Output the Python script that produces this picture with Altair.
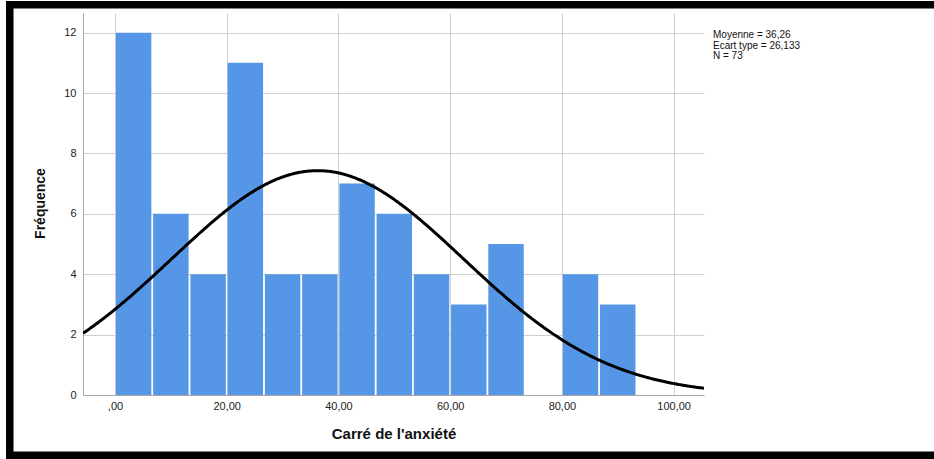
import altair as alt
import pandas as pd

# Histogram of "Carré de l'anxiété" with fitted normal curve
COUNTS = [12, 6, 4, 11, 4, 4, 7, 6, 4, 3, 5, 0, 4, 3]
BIN_WIDTH = 20 / 3
MEAN = 36.26
SD = 26.133
N = 73
X_TICKS = [0, 20, 40, 60, 80, 100]
Y_TICKS = [0, 2, 4, 6, 8, 10, 12]
X_DOMAIN = [-5.73, 105.44]
Y_DOMAIN = [0, 12.65]

W, H = 621, 382
PAD_L, PAD_T = 83, 13

BAR_COLOR = "#5597e6"
GRID_COLOR = "#cfcfcf"
AXIS_COLOR = "#a8a8a8"
FONT = "Liberation Sans"

bins = pd.DataFrame({
    "start": [i * BIN_WIDTH for i in range(len(COUNTS))],
    "end": [(i + 1) * BIN_WIDTH for i in range(len(COUNTS))],
    "count": COUNTS,
})

x_scale = alt.Scale(domain=X_DOMAIN, nice=False, zero=False)
y_scale = alt.Scale(domain=Y_DOMAIN, nice=False)

x_axis = alt.Axis(
    values=X_TICKS,
    labelExpr="datum.value == 0 ? ',00' : replace(format(datum.value, '.2f'), '.', ',')",
    title="Carré de l'anxiété",
    titleFont=FONT, titleFontSize=15, titleFontWeight="bold", titleColor="#111",
    titleX=W / 2, titleY=38, titleBaseline="middle", titleAlign="center",
    labelFont=FONT, labelFontSize=11, labelColor="#222", labelPadding=5,
    ticks=False, grid=True, gridColor=GRID_COLOR, domainColor=AXIS_COLOR,
    labelFlush=False,
)
y_axis = alt.Axis(
    values=Y_TICKS,
    title="Fréquence",
    titleFont=FONT, titleFontSize=14, titleFontWeight="bold", titleColor="#111",
    titleAngle=-90, titleX=-43, titleY=190, titleBaseline="middle", titleAlign="center",
    labelFont=FONT, labelFontSize=11, labelColor="#222", labelPadding=7,
    ticks=False, grid=True, gridColor=GRID_COLOR, domainColor=AXIS_COLOR,
)

# Bars span each bin; a thin gap separates neighbours
bars = alt.Chart(bins).mark_rect(
    color=BAR_COLOR, xOffset=0.9, x2Offset=-0.9
).encode(
    x=alt.X("start:Q", scale=x_scale, axis=x_axis),
    x2="end:Q",
    y=alt.Y("count:Q", scale=y_scale, axis=y_axis),
    y2=alt.datum(0),
)

# Normal density scaled to counts: N * bin width * pdf(x)
curve = alt.Chart(alt.sequence(X_DOMAIN[0], X_DOMAIN[1] + 0.2, 0.2, as_="x")).transform_calculate(
    y=f"{N} * {BIN_WIDTH} * densityNormal(datum.x, {MEAN}, {SD})"
).mark_line(color="black", strokeWidth=3, clip=True).encode(
    x=alt.X("x:Q", scale=x_scale),
    y=alt.Y("y:Q", scale=y_scale),
)

stats_lines = [
    f"Moyenne = {MEAN:.2f}".replace(".", ","),
    f"Ecart type = {SD:.3f}".replace(".", ","),
    f"N = {N}",
]
stats = alt.Chart(pd.DataFrame({"t": ["\n".join(stats_lines)]})).mark_text(
    align="left", baseline="alphabetic", font=FONT, fontSize=10,
    lineBreak="\n", lineHeight=10.5, color="#111",
).encode(
    x=alt.value(713 - PAD_L), y=alt.value(38 - PAD_T), text="t:N"
)

# Black frame around the figure
def band(x0, x1, y0, y1):
    return alt.Chart(pd.DataFrame({"k": [0]})).mark_rect(color="black").encode(
        x=alt.value(x0 - PAD_L), x2=alt.value(x1 - PAD_L),
        y=alt.value(y0 - PAD_T), y2=alt.value(y1 - PAD_T),
    )

frame = band(6, 940, 1, 8.5) + band(6, 13.5, 1, 460) + band(6, 940, 451.5, 460)

chart = alt.layer(bars, curve, stats, frame).properties(
    width=W, height=H,
    padding={"left": PAD_L, "top": PAD_T, "right": 934 - PAD_L - W, "bottom": 459 - PAD_T - H},
    autosize=alt.AutoSizeParams(type="none"),
    background="white",
).configure_view(stroke=None)

chart.save("out.html", embed_options={"renderer": "svg", "actions": False})
